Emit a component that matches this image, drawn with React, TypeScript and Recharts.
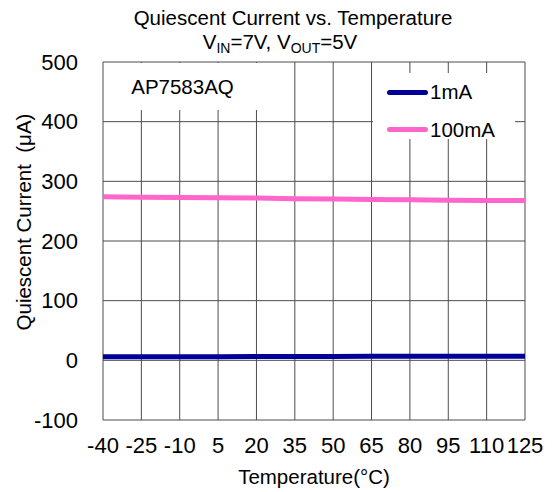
import { LineChart, Line, XAxis, YAxis, CartesianGrid, Legend } from "recharts";

const temps = [-40, -25, -10, 5, 20, 35, 50, 65, 80, 95, 110, 125];
const current1mA = [6, 6, 6, 6, 6.3, 6.4, 6.5, 6.7, 6.8, 6.9, 7, 7];
const current100mA = [274, 273.5, 273, 272.5, 272, 271, 270.5, 269.5, 269, 268.5, 268, 267.8];
const yTicks = [-100, 0, 100, 200, 300, 400, 500];
const seriesNames = ["1mA", "100mA"];

const data = temps.map((t, i) => ({
  temp: t,
  ma1: current1mA[i],
  ma100: current100mA[i],
}));

const font = "'Liberation Sans', Arial, sans-serif";

const renderLegend = ({ payload }: any) => {
  const items = [...(payload || [])].sort(
    (a: any, b: any) => seriesNames.indexOf(a.value) - seriesNames.indexOf(b.value)
  );
  return (
    <div style={{ position: "relative", width: "100%", height: "100%" }}>
      {items.map((entry: any, i: number) => (
        <div
          key={entry.value}
          style={{
            position: "absolute",
            left: 14,
            top: 8 + i * 37.5,
            height: 22,
            display: "flex",
            alignItems: "center",
            fontFamily: font,
            fontSize: 20.5,
            color: "#000",
          }}
        >
          <span
            style={{
              display: "inline-block",
              width: 41,
              height: 5,
              borderRadius: 3,
              background: entry.color,
              marginRight: 2,
            }}
          />
          {entry.value}
        </div>
      ))}
    </div>
  );
};

export default function App() {
  return (
    <div
      style={{
        position: "absolute",
        left: 0,
        top: 0,
        width: 557,
        height: 492,
        background: "#fff",
        fontFamily: font,
        color: "#000",
      }}
    >
      <LineChart
        width={557}
        height={492}
        data={data}
        margin={{ top: 62, right: 32, bottom: 42, left: 0 }}
      >
        <CartesianGrid stroke="#4d4d4d" strokeWidth={1} />
        <XAxis
          dataKey="temp"
          type="number"
          domain={[-40, 125]}
          ticks={temps}
          interval={0}
          height={30}
          axisLine={false}
          tickLine={false}
          tickSize={0}
          tickMargin={17}
          tick={{ fill: "#000", fontSize: 22, fontFamily: font }}
        />
        <YAxis
          type="number"
          domain={[-100, 500]}
          ticks={yTicks}
          interval={0}
          width={103}
          axisLine={false}
          tickLine={false}
          tickSize={0}
          tickMargin={25}
          tick={{ fill: "#000", fontSize: 22, fontFamily: font }}
        />
        <Legend
          layout="vertical"
          align="center"
          verticalAlign="middle"
          content={renderLegend}
          wrapperStyle={{
            position: "absolute",
            left: 373,
            top: 73,
            width: 142,
            height: 66,
            background: "#fff",
          }}
        />
        <Line
          name={seriesNames[0]}
          type="linear"
          dataKey="ma1"
          stroke="#000099"
          strokeWidth={5}
          dot={false}
          isAnimationActive={false}
        />
        <Line
          name={seriesNames[1]}
          type="linear"
          dataKey="ma100"
          stroke="#FF66CC"
          strokeWidth={5}
          dot={false}
          isAnimationActive={false}
        />
      </LineChart>

      <div
        style={{
          position: "absolute",
          left: 104,
          top: 63,
          width: 153,
          height: 47,
          background: "#fff",
          fontSize: 20.5,
          lineHeight: "47px",
          textAlign: "center",
          paddingLeft: 4,
          boxSizing: "border-box",
        }}
      >
        AP7583AQ
      </div>

      <div
        style={{
          position: "absolute",
          left: 93,
          top: 8,
          width: 400,
          fontSize: 20.5,
          lineHeight: "20px",
          textAlign: "center",
        }}
      >
        Quiescent Current vs. Temperature
      </div>
      <div
        style={{
          position: "absolute",
          left: 80,
          top: 32,
          width: 400,
          fontSize: 20.5,
          lineHeight: "20px",
          textAlign: "center",
        }}
      >
        V<sub style={{ fontSize: 14, verticalAlign: "-4px" }}>IN</sub>=7V, V
        <sub style={{ fontSize: 14, verticalAlign: "-4px" }}>OUT</sub>=5V
      </div>

      <div
        style={{
          position: "absolute",
          left: 114,
          top: 467,
          width: 400,
          fontSize: 20.5,
          lineHeight: "20px",
          textAlign: "center",
        }}
      >
        Temperature(°C)
      </div>

      <div
        style={{
          position: "absolute",
          left: 24,
          top: 222,
          fontSize: 20.5,
          lineHeight: "20px",
          whiteSpace: "pre",
          transform: "translate(-50%, -50%) rotate(-90deg)",
        }}
      >
        Quiescent Current  (μA)
      </div>
    </div>
  );
}
